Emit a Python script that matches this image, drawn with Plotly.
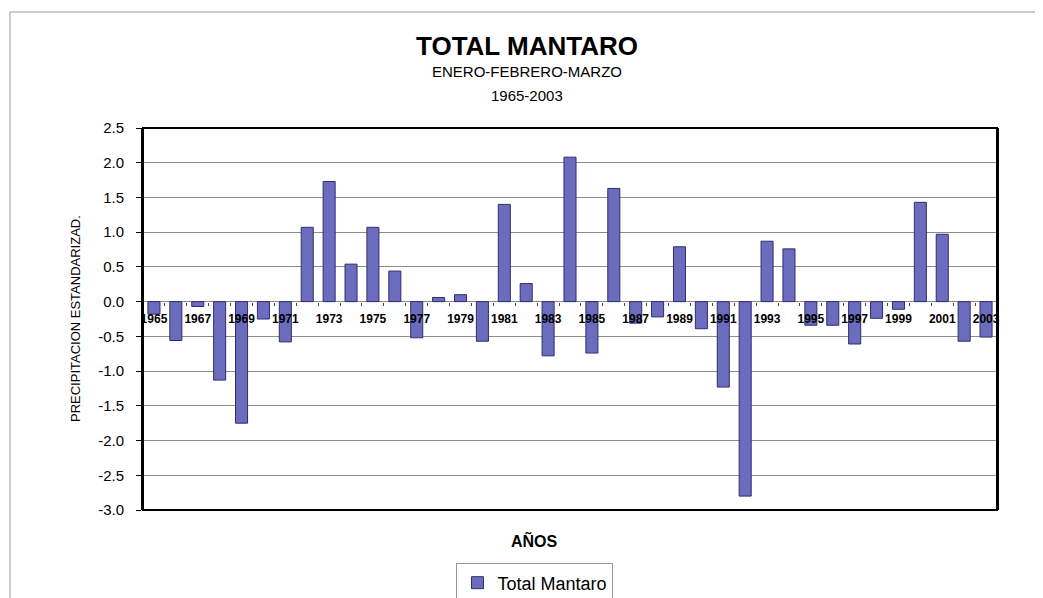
import plotly.graph_objects as go

# Datos
anios = list(range(1965, 2004))
precip_std = [-0.18, -0.56, -0.07, -1.13, -1.75, -0.25, -0.58, 1.07, 1.73, 0.54,
              1.07, 0.44, -0.52, 0.06, 0.10, -0.57, 1.40, 0.26, -0.78, 2.08,
              -0.74, 1.63, -0.31, -0.22, 0.79, -0.39, -1.23, -2.80, 0.87, 0.76,
              -0.34, -0.34, -0.61, -0.24, -0.11, 1.43, 0.97, -0.57, -0.51]
ticks_x = list(range(1965, 2004, 2))
ticks_y = [2.5, 2.0, 1.5, 1.0, 0.5, 0.0, -0.5, -1.0, -1.5, -2.0, -2.5, -3.0]

fuente = "Liberation Sans, Arial, sans-serif"

fig = go.Figure()
fig.add_trace(go.Bar(x=anios, y=precip_std, name="Total Mantaro", width=0.55,
                     marker=dict(color="#6c6cbf", line=dict(color="#2e2e6e", width=1))))

# Eje x cruzando en cero
pos_cero = (0 - (-3.0)) / (2.5 - (-3.0))

# la pagina tiene 8px de margen en el body, se compensa aqui
fig.update_layout(
    width=1035, height=590,
    margin=dict(l=135, r=46, t=120, b=88, autoexpand=False),
    plot_bgcolor="white", paper_bgcolor="white",
    font=dict(family=fuente, color="black"),
    showlegend=True,
    legend=dict(x=0.459, y=-0.14, xanchor="center", yanchor="top",
                bordercolor="#999999", borderwidth=1, font=dict(size=18)),
    xaxis=dict(range=[1964.5, 2003.5], tickvals=ticks_x,
               ticktext=[f"<b>{t}</b>" for t in ticks_x],
               anchor="free", position=pos_cero, showgrid=False, showline=False,
               ticks="", ticklabelstandoff=8,
               minor=dict(ticks="outside", ticklen=3, tick0=1964.5, dtick=1,
                          tickcolor="#444444", showgrid=False),
               tickfont=dict(size=12, color="black")),
    yaxis=dict(range=[-3.0, 2.5], tickvals=ticks_y, ticktext=[f"{v:.1f}" for v in ticks_y],
               showgrid=True, gridcolor="#8c8c8c", gridwidth=1,
               zeroline=True, zerolinecolor="#8c8c8c", zerolinewidth=1,
               showline=True, linecolor="black", linewidth=2, mirror=True,
               ticks="outside", ticklen=5, tickcolor="black", ticklabelstandoff=9,
               tickfont=dict(size=15, color="black")),
)

# Marco del area de grafico
fig.add_shape(type="rect", xref="paper", yref="paper", x0=0, x1=1, y0=0, y1=1,
              line=dict(color="black", width=2), layer="above")
# Marco exterior del grafico
fig.add_shape(type="rect", xref="paper", yref="paper",
              x0=(2 - 135) / 854, x1=(1060 - 135) / 854,
              y0=(502 - 620) / 382, y1=(502 - 4) / 382,
              line=dict(color="#9a9a9a", width=1), layer="below")

fig.add_annotation(text="<b>TOTAL MANTARO</b>", xref="paper", yref="paper", x=0.4497, y=1.215,
                   xanchor="center", yanchor="middle", showarrow=False, font=dict(size=26))
fig.add_annotation(text="ENERO-FEBRERO-MARZO", xref="paper", yref="paper", x=0.4497, y=1.149,
                   xanchor="center", yanchor="middle", showarrow=False, font=dict(size=15))
fig.add_annotation(text="1965-2003", xref="paper", yref="paper", x=0.4497, y=1.086,
                   xanchor="center", yanchor="middle", showarrow=False, font=dict(size=15))
fig.add_annotation(text="<b>AÑOS</b>", xref="paper", yref="paper", x=0.458, y=-0.081,
                   xanchor="center", yanchor="middle", showarrow=False, font=dict(size=16))
fig.add_annotation(text="PRECIPITACION ESTANDARIZAD.", xref="paper", yref="paper",
                   x=-0.0796, y=0.5, xanchor="center", yanchor="middle", textangle=-90,
                   showarrow=False, font=dict(size=13))

fig.write_html("out.html")
